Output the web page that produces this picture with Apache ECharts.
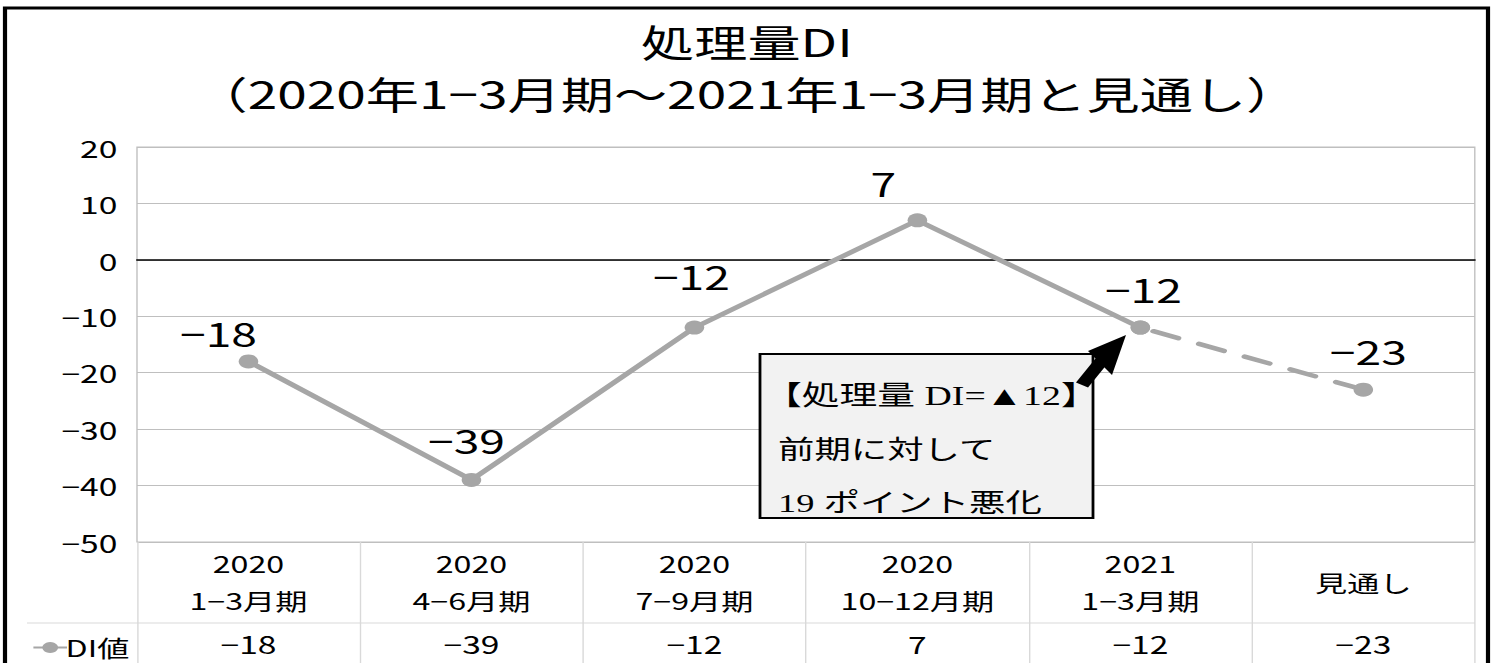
<!DOCTYPE html>
<html>
<head>
<meta charset="utf-8">
<script src="https://cdn.jsdelivr.net/npm/echarts@6/dist/echarts.min.js"></script>
<style>
html,body{margin:0;padding:0;background:#fff;overflow:hidden;}
#wrap{width:1494px;height:663px;overflow:hidden;position:relative;}
#chart{position:absolute;left:0;top:0;height:663px;transform-origin:0 0;}
</style>
</head>
<body>
<div id="wrap"><div id="chart"></div></div>
<script>
// ---- data ----
const titleText = '処理量DI\n（2020年1−3月期～2021年1−3月期と見通し）';
const categories = ['2020\n1−3月期', '2020\n4−6月期', '2020\n7−9月期', '2020\n10−12月期', '2021\n1−3月期', '見通し'];
const seriesName = 'DI値';
const values = [-18, -39, -12, 7, -12, -23];
const yMin = -50, yMax = 20, yStep = 10;
const calloutLines = ['【処理量 DI=▲12】', '前期に対して', '19 ポイント悪化'];

// ---- layout (target px; x values are divided by S because the canvas is stretched horizontally) ----
const S = 1.4;
const W = 1494 / S;
const labelOffsets = [[-30, 0], [-5, -12], [-3, -23], [-34, -9], [3, -10], [5, -11]];
const FONT = '"Noto Sans CJK JP", "Noto Sans", sans-serif';
const SERIF = '"Liberation Serif", "Noto Sans CJK JP", serif';
const fmt = v => (v < 0 ? '−' + Math.abs(v) : String(v));
const lineColor = '#a6a6a6';

const el = document.getElementById('chart');
el.style.width = W + 'px';
el.style.transform = 'scaleX(' + S + ')';
const chart = echarts.init(el, null, { renderer: 'svg' });

const solidData = values.map((v, i) => i <= 4 ? { value: v, label: { offset: [labelOffsets[i][0] / S, labelOffsets[i][1]] } } : '-');
const dashData = values.map((v, i) => i >= 4 ? { value: v, label: { show: i === values.length - 1, offset: [labelOffsets[i][0] / S, labelOffsets[i][1]] } } : '-');

const option = {
  backgroundColor: '#fff',
  animation: false,
  title: {
    text: titleText,
    left: 'center',
    top: 9,
    textStyle: { fontFamily: FONT, fontSize: 38, fontWeight: 'normal', color: '#000', lineHeight: 52 }
  },
  legend: {
    data: [seriesName],
    left: 25 / S,
    top: 631,
    itemWidth: 24,
    itemHeight: 14,
    itemGap: 2,
    textStyle: { fontFamily: FONT, fontSize: 23, color: '#000', padding: [0, 0, 0, -6] }
  },
  grid: {
    left: 137 / S,
    right: W - 1475 / S,
    top: 147,
    bottom: 663 - 542,
    show: true,
    borderColor: '#c0c0c0',
    borderWidth: 1,
    containLabel: false
  },
  xAxis: [
    {
      type: 'category',
      data: categories,
      boundaryGap: true,
      axisLine: { show: false, onZero: false },
      axisTick: { show: true, length: 125, interval: 0, lineStyle: { color: '#d9d9d9', width: 1 } },
      axisLabel: {
        interval: 0, margin: 40, verticalAlign: 'middle',
        fontFamily: FONT, fontSize: 23, lineHeight: 37, color: '#000'
      },
      splitLine: { show: false }
    },
    {
      type: 'category',
      data: values.map(fmt),
      boundaryGap: true,
      position: 'bottom',
      axisLine: { show: false, onZero: false },
      axisTick: { show: false },
      axisLabel: { interval: 0, margin: 101, verticalAlign: 'middle', fontFamily: FONT, fontSize: 24, color: '#000' },
      splitLine: { show: false }
    },
    {
      type: 'category',
      data: categories,
      position: 'bottom',
      axisLine: { show: true, onZero: true, lineStyle: { color: '#000', width: 1.6 } },
      axisTick: { show: false },
      axisLabel: { show: false },
      splitLine: { show: false }
    }
  ],
  yAxis: {
    type: 'value',
    min: yMin, max: yMax, interval: yStep,
    axisLine: { show: false },
    axisTick: { show: false },
    axisLabel: { margin: 14, formatter: fmt, fontFamily: FONT, fontSize: 24, color: '#000' },
    splitLine: { show: true, lineStyle: { color: '#bfbfbf', width: 1 } }
  },
  series: [
    {
      name: seriesName,
      type: 'line',
      data: solidData,
      xAxisIndex: 0,
      symbol: 'circle',
      symbolSize: 14,
      z: 3,
      lineStyle: { color: lineColor, width: 4.5 },
      itemStyle: { color: lineColor },
      label: { show: true, position: 'top', formatter: p => fmt(p.value), fontFamily: FONT, fontSize: 33, color: '#000' }
    },
    {
      name: seriesName + '（見通し）',
      type: 'line',
      data: dashData,
      xAxisIndex: 0,
      symbol: 'circle',
      symbolSize: 14,
      z: 2,
      lineStyle: { color: lineColor, width: 4.5, type: [19, 16], cap: 'round', dashOffset: -10 },
      itemStyle: { color: lineColor },
      label: { show: true, position: 'top', formatter: p => fmt(p.value), fontFamily: FONT, fontSize: 33, color: '#000' }
    }
  ],
  graphic: [
    // outer frame
    { type: 'rect', silent: true, z: 100, shape: { x: 5 / S, y: 8, width: 1483 / S, height: 700 }, style: { fill: 'none', stroke: '#000', lineWidth: 3 } },
    // table row separator
    { type: 'line', silent: true, shape: { x1: 27 / S, y1: 623, x2: 1475 / S, y2: 623 }, style: { stroke: '#d9d9d9', lineWidth: 1 } },
    // callout box
    { type: 'rect', z: 50, shape: { x: 760 / S, y: 354, width: 333 / S, height: 164 }, style: { fill: '#f2f2f2', stroke: '#000', lineWidth: 2 } },
    { type: 'text', z: 51, x: 764 / S, y: 396, style: { text: calloutLines[0], fill: '#000', fontFamily: SERIF, fontSize: 27, verticalAlign: 'middle' } },
    { type: 'text', z: 51, x: 778 / S, y: 450, style: { text: calloutLines[1], fill: '#000', fontFamily: SERIF, fontSize: 26, verticalAlign: 'middle' } },
    { type: 'text', z: 51, x: 778 / S, y: 503, style: { text: calloutLines[2], fill: '#000', fontFamily: SERIF, fontSize: 26, verticalAlign: 'middle' } },
    // arrow
    { type: 'line', z: 52, shape: { x1: 1082 / S, y1: 385, x2: 1104 / S, y2: 358 }, style: { stroke: '#000', lineWidth: 10 } },
    { type: 'polygon', z: 52, shape: { points: [[1126 / S, 335], [1088 / S, 351], [1112 / S, 375]] }, style: { fill: '#000' } }
  ]
};
chart.setOption(option);
</script>
</body>
</html>
